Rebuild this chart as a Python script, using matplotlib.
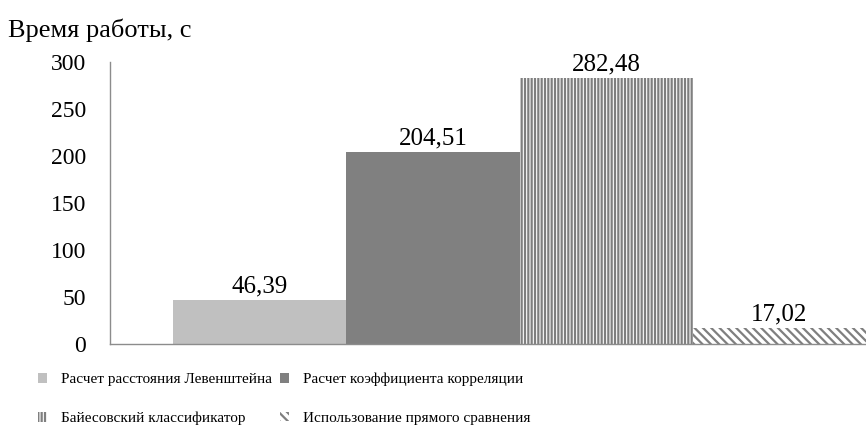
import matplotlib
matplotlib.use("Agg")
import matplotlib.pyplot as plt
from matplotlib.patches import Patch

# data
methods = ["Расчет расстояния Левенштейна", "Расчет коэффициента корреляции",
           "Байесовский классификатор", "Использование прямого сравнения"]
times = [46.39, 204.51, 282.48, 17.02]
labels = ["46,39", "204,51", "282,48", "17,02"]
yticks = [0, 50, 100, 150, 200, 250, 300]

plt.rcParams['font.family'] = ['Liberation Serif', 'DejaVu Serif']
plt.rcParams['hatch.linewidth'] = 1.6

fig = plt.figure(figsize=(8.66, 4.38), dpi=100)
ax = fig.add_axes([0.127, 0.2146, 0.873, 0.6438])

faces = ["#c0c0c0", "#808080", "white", "white"]
edges = ["#c0c0c0", "#808080", "#7f7f7f", "#7f7f7f"]
hatches = [None, None, "|||||", "\\\\\\\\"]
for i, (t, lab) in enumerate(zip(times, labels)):
    ax.bar(i, t, width=1.0, color=faces[i], edgecolor=edges[i],
           hatch=hatches[i], linewidth=0)
    ax.text(i, t + 3, lab, ha="center", va="bottom", fontsize=18)

ax.set_xlim(-0.5 - 63 / 173, 3.5)
ax.set_ylim(0, 300)
ax.set_yticks(yticks)
ax.set_yticklabels([str(v) for v in yticks], fontsize=17)
ax.set_xticks([])
ax.tick_params(axis="y", length=0, pad=17)
for s in ["top", "right"]:
    ax.spines[s].set_visible(False)
for s in ["left", "bottom"]:
    ax.spines[s].set_color("#8c8c8c")
    ax.spines[s].set_linewidth(1.0)

fig.text(0.009, 0.93, "Время работы, с", fontsize=19, ha="left", va="center")

# legend: one entry per block so each sits where it is in the reference
spots = [(0.044, 0.133), (0.3235, 0.133), (0.044, 0.045), (0.3235, 0.045)]
for i in range(4):
    h = Patch(facecolor=faces[i], edgecolor=edges[i], hatch=hatches[i], linewidth=0)
    fig.legend([h], [methods[i]], frameon=False, fontsize=11,
               loc="center left", bbox_to_anchor=spots[i], borderpad=0,
               borderaxespad=0, handlelength=0.6, handleheight=0.6,
               handletextpad=0.9)

fig.savefig("out.png", dpi=100)
